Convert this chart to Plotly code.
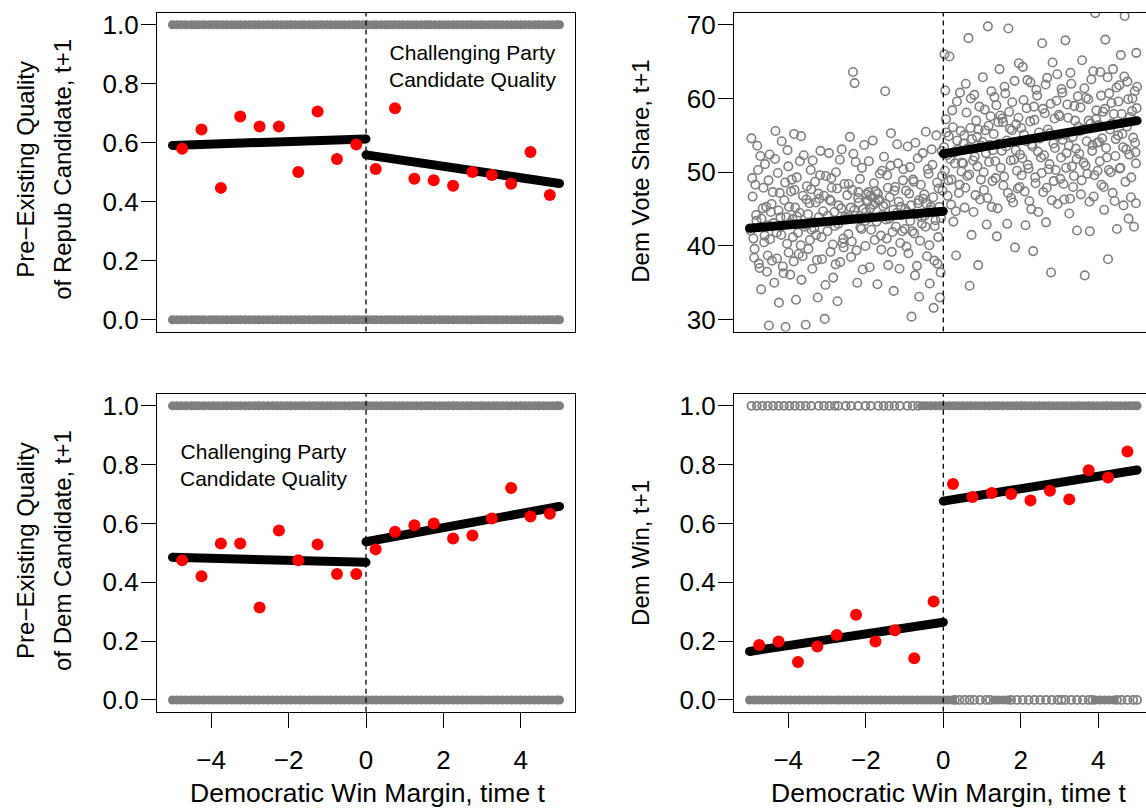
import plotly.graph_objects as go

# ---------------- data ----------------
bin_x = [-4.75, -4.25, -3.75, -3.25, -2.75, -2.25, -1.75, -1.25, -0.75, -0.25,
         0.25, 0.75, 1.25, 1.75, 2.25, 2.75, 3.25, 3.75, 4.25, 4.75]

# panel A: pre-existing quality of Repub candidate
rep_bin_means = [0.580, 0.645, 0.447, 0.689, 0.655, 0.655, 0.501, 0.706, 0.545, 0.594,
                 0.511, 0.717, 0.478, 0.473, 0.454, 0.501, 0.491, 0.461, 0.569, 0.423]
rep_fit_left = [0.591, 0.613]
rep_fit_right = [0.559, 0.462]

# panel C: pre-existing quality of Dem candidate
dem_bin_means = [0.475, 0.421, 0.532, 0.532, 0.314, 0.576, 0.475, 0.529, 0.428, 0.428,
                 0.512, 0.572, 0.594, 0.600, 0.549, 0.559, 0.617, 0.721, 0.624, 0.633]
dem_fit_left = [0.485, 0.468]
dem_fit_right = [0.538, 0.658]

# panel D: Dem win, t+1
win_bin_means = [0.187, 0.199, 0.129, 0.182, 0.221, 0.290, 0.199, 0.237, 0.142, 0.335,
                 0.734, 0.690, 0.704, 0.700, 0.678, 0.711, 0.682, 0.781, 0.756, 0.845]
win_fit_left = [0.165, 0.264]
win_fit_right = [0.676, 0.782]

fit_x_left = [-5.0, 0.0]
fit_x_right = [0.0, 5.0]

# panel B: Dem vote share, t+1 (fit)
vs_fit_left = [42.4, 44.7]
vs_fit_right = [52.5, 57.0]

vs_x = [
    -4.95, -4.93, -4.9, -4.88, -4.85, -4.82, -4.8, -4.76, -4.72, -4.7, -4.66, -4.62, -4.6, -4.55, -4.52, -4.5,
    -4.48, -4.45, -4.42, -4.4, -4.36, -4.33, -4.3, -4.27, -4.24, -4.2, -4.17, -4.14, -4.1, -4.07, -4.03, -4.0,
    -3.98, -3.96, -3.95, -3.91, -3.88, -3.85, -3.84, -3.8, -3.77, -3.73, -3.7, -3.68, -3.66, -3.62, -3.6, -3.58, -3.55, -3.52,
    -3.48, -3.45, -3.42, -3.4, -3.38, -3.35, -3.31, -3.28, -3.24, -3.22, -3.2, -3.17, -3.13, -3.1, -3.06, -3.03,
    -2.98, -2.95, -2.91, -2.9, -2.88, -2.84, -2.8, -2.77, -2.73, -2.7, -2.66, -2.62, -2.6, -2.58, -2.55, -2.52,
    -2.48, -2.45, -2.41, -2.38, -2.35, -2.33, -2.3, -2.29, -2.26, -2.22, -2.2, -2.18, -2.15, -2.11, -2.08, -2.04, -2.02,
    -1.98, -1.95, -1.92, -1.9, -1.88, -1.85, -1.82, -1.8, -1.77, -1.74, -1.7, -1.67, -1.64, -1.6, -1.57, -1.53,
    -1.5, -1.48, -1.45, -1.42, -1.38, -1.35, -1.31, -1.28, -1.24, -1.2, -1.17, -1.13, -1.1, -1.06, -1.03,
    -0.98, -0.95, -0.92, -0.88, -0.85, -0.82, -0.78, -0.75, -0.72, -0.68, -0.65, -0.62, -0.58, -0.55, -0.52,
    -0.48, -0.45, -0.42, -0.38, -0.35, -0.32, -0.28, -0.25, -0.22, -0.18, -0.15, -0.12, -0.09, -0.06, -0.03,
    0.03, 0.05, 0.08, 0.1, 0.13, 0.16, 0.2, 0.23, 0.26, 0.3, 0.33, 0.36, 0.4, 0.43, 0.47,
    0.52, 0.55, 0.58, 0.62, 0.65, 0.68, 0.7, 0.73, 0.77, 0.8, 0.83, 0.87, 0.9, 0.93, 0.97,
    1.02, 1.05, 1.08, 1.12, 1.15, 1.18, 1.22, 1.25, 1.28, 1.32, 1.35, 1.38, 1.42, 1.45, 1.48,
    1.52, 1.55, 1.58, 1.62, 1.65, 1.68, 1.72, 1.75, 1.78, 1.82, 1.85, 1.88, 1.92, 1.95, 1.98,
    2.02, 2.05, 2.08, 2.12, 2.15, 2.18, 2.22, 2.25, 2.28, 2.32, 2.35, 2.38, 2.42, 2.45, 2.48,
    2.52, 2.55, 2.58, 2.62, 2.65, 2.68, 2.72, 2.75, 2.78, 2.82, 2.85, 2.88, 2.92, 2.95, 2.98,
    3.02, 3.05, 3.08, 3.12, 3.15, 3.18, 3.22, 3.25, 3.28, 3.32, 3.35, 3.38, 3.42, 3.45, 3.48,
    3.52, 3.55, 3.58, 3.62, 3.65, 3.68, 3.72, 3.75, 3.78, 3.82, 3.85, 3.88, 3.92, 3.95, 3.98,
    4.02, 4.05, 4.08, 4.12, 4.15, 4.18, 4.22, 4.25, 4.28, 4.32, 4.35, 4.38, 4.42, 4.45, 4.48,
    4.52, 4.55, 4.58, 4.62, 4.65, 4.68, 4.72, 4.75, 4.78, 4.82, 4.85, 4.88, 4.92, 4.95, 4.98,
    4.99, 4.97, 5.0, 4.96,
    # second pass, denser core
    -4.97, -4.92, -4.87, -4.83, -4.78, -4.74, -4.69, -4.64, -4.61, -4.57, -4.53, -4.51,
    -4.47, -4.43, -4.38, -4.34, -4.29, -4.25, -4.22, -4.18, -4.12, -4.08, -4.05, -4.02,
    -3.99, -3.93, -3.89, -3.86, -3.82, -3.78, -3.75, -3.71, -3.67, -3.63, -3.57, -3.53,
    -3.49, -3.44, -3.41, -3.37, -3.33, -3.29, -3.26, -3.21, -3.18, -3.14, -3.08, -3.04,
    -2.99, -2.93, -2.89, -2.85, -2.81, -2.78, -2.74, -2.71, -2.67, -2.63, -2.57, -2.53,
    -2.49, -2.44, -2.39, -2.36, -2.32, -2.27, -2.24, -2.19, -2.14, -2.1, -2.06, -2.01,
    -1.99, -1.96, -1.93, -1.89, -1.86, -1.83, -1.79, -1.76, -1.72, -1.69, -1.65, -1.61, -1.58, -1.55,
    -1.49, -1.46, -1.43, -1.39, -1.36, -1.33, -1.29, -1.26, -1.22, -1.19, -1.15, -1.11, -1.08, -1.04,
    -0.99, -0.96, -0.93, -0.9, -0.86, -0.83, -0.8, -0.76, -0.73, -0.7, -0.66, -0.63, -0.6, -0.56, -0.53,
    -0.49, -0.46, -0.43, -0.4, -0.36, -0.33, -0.3, -0.26, -0.23, -0.2, -0.16, -0.13, -0.1, -0.07, -0.04, -0.02,
    0.02, 0.04, 0.07, 0.11, 0.14, 0.18, 0.21, 0.25, 0.28, 0.32, 0.35, 0.38, 0.42, 0.45, 0.48,
    0.51, 0.54, 0.57, 0.6, 0.63, 0.67, 0.71, 0.74, 0.78, 0.81, 0.85, 0.88, 0.91, 0.95, 0.98,
    1.01, 1.04, 1.07, 1.1, 1.14, 1.17, 1.2, 1.24, 1.27, 1.3, 1.34, 1.37, 1.4, 1.44, 1.47,
    1.51, 1.54, 1.57, 1.6, 1.64, 1.67, 1.7, 1.74, 1.77, 1.8, 1.84, 1.87, 1.9, 1.94, 1.97,
    2.01, 2.04, 2.07, 2.1, 2.14, 2.17, 2.2, 2.24, 2.27, 2.3, 2.34, 2.37, 2.4, 2.44, 2.47,
    2.51, 2.54, 2.57, 2.6, 2.64, 2.67, 2.7, 2.74, 2.77, 2.8, 2.84, 2.87, 2.9, 2.94, 2.97,
    3.01, 3.04, 3.07, 3.1, 3.14, 3.17, 3.2, 3.24, 3.27, 3.3, 3.34, 3.37, 3.4, 3.44, 3.47,
    3.51, 3.54, 3.57, 3.6, 3.64, 3.67, 3.7, 3.74, 3.77, 3.8, 3.84, 3.87, 3.9, 3.94, 3.97,
    4.01, 4.04, 4.07, 4.1, 4.14, 4.17, 4.2, 4.24, 4.27, 4.3, 4.34, 4.37, 4.4, 4.44, 4.47,
    4.51, 4.54, 4.57, 4.6, 4.64, 4.67, 4.7, 4.74, 4.77, 4.8, 4.84, 4.87, 4.9, 4.94, 4.97,
]
vs_y = [
    54.6, 49.2, 41.0, 38.4, 48.3, 43.4, 53.6, 37.6, 52.2, 34.1, 45.1, 40.5, 51.1, 36.5, 42.8, 29.2,
    52.4, 44.6, 38.0, 47.3, 35.0, 55.6, 41.8, 49.9, 32.3, 43.9, 54.2, 37.2, 46.2, 29.0, 40.3, 50.8,
    45.3, 43.1, 36.1, 49.0, 41.2, 55.2, 47.6, 32.7, 44.0, 38.9, 51.5, 40.1, 35.4, 46.8, 52.3, 42.6, 29.3, 48.1,
    39.6, 45.8, 50.3, 42.2, 36.9, 43.2, 48.7, 41.5, 33.0, 47.1, 46.4, 52.9, 38.2, 44.7, 30.1, 49.5,
    44.1, 52.6, 39.2, 46.1, 47.9, 35.7, 42.7, 50.0, 32.5, 45.5, 37.8, 53.1, 40.4, 41.0, 48.4, 43.6,
    46.9, 41.6, 54.8, 38.5, 47.6, 63.6, 44.8, 62.1, 51.4, 35.0, 46.5, 45.9, 49.1, 42.3, 36.8, 53.7, 43.4,
    47.0, 46.2, 51.5, 37.1, 46.8, 43.9, 54.3, 45.6, 40.8, 47.4, 34.8, 46.1, 49.8, 39.5, 44.2, 52.1,
    61.0, 43.6, 49.6, 37.4, 46.6, 55.3, 41.9, 33.9, 48.0, 44.5, 51.2, 36.9, 45.3, 42.0, 50.4,
    45.0, 39.9, 53.5, 47.1, 43.4, 30.4, 49.0, 41.7, 54.0, 37.3, 45.8, 33.1, 48.3, 43.0, 46.4,
    44.1, 55.5, 38.6, 49.8, 34.9, 45.3, 51.0, 31.6, 42.7, 55.0, 37.6, 47.8, 33.0, 43.8, 49.5,
    66.0, 61.1, 55.4, 52.3, 48.9, 65.7, 45.6, 58.4, 43.3, 51.2, 38.7, 54.3, 47.2, 60.8, 50.1,
    53.9, 45.2, 62.0, 49.5, 68.2, 34.6, 56.0, 41.5, 51.6, 60.5, 46.9, 54.8, 37.4, 58.9, 49.0,
    62.9, 47.6, 55.7, 42.9, 69.8, 51.4, 57.6, 45.3, 53.0, 60.2, 49.2, 41.3, 56.8, 64.0, 50.6,
    57.3, 48.2, 61.6, 53.5, 43.0, 69.5, 55.9, 46.5, 59.5, 51.7, 39.8, 56.5, 47.8, 64.8, 52.4,
    49.6, 64.3, 55.1, 42.8, 58.7, 51.0, 46.1, 62.2, 53.8, 39.3, 57.1, 48.5, 60.4, 44.6, 54.6,
    52.0, 67.5, 47.3, 58.0, 43.2, 62.8, 50.4, 55.3, 36.4, 64.9, 48.8, 53.3, 59.7, 45.7, 57.8,
    49.1, 61.3, 54.4, 46.3, 67.9, 52.6, 57.4, 44.4, 63.5, 50.8, 48.0, 59.0, 53.2, 42.1, 56.2,
    55.6, 47.0, 65.2, 51.3, 36.0, 60.1, 49.8, 57.0, 42.0, 62.6, 53.7, 46.7, 71.6, 58.4, 50.2,
    54.1, 63.6, 48.3, 58.2, 44.9, 68.0, 52.0, 38.2, 60.7, 50.0, 56.6, 64.0, 46.1, 54.5, 42.3,
    59.6, 50.5, 65.9, 55.2, 45.5, 71.2, 53.1, 62.3, 43.7, 57.5, 49.3, 60.0, 42.6, 54.0, 66.2,
    58.7, 45.8, 61.6, 52.7,
    # second pass, denser core
    42.1, 46.7, 39.6, 44.2, 50.3, 37.0, 43.7, 47.9, 41.4, 45.3, 38.7, 48.9,
    40.9, 45.7, 43.1, 51.8, 38.3, 44.8, 47.2, 41.5, 36.3, 48.6, 43.9, 53.0,
    39.1, 47.4, 43.6, 37.9, 45.2, 49.3, 41.8, 44.5, 54.9, 38.6, 42.9, 46.3,
    44.3, 40.8, 47.7, 51.6, 42.4, 45.9, 38.1, 43.9, 49.6, 41.2, 46.8, 34.7,
    42.0, 46.3, 49.2, 40.2, 44.6, 37.5, 47.8, 43.0, 51.7, 45.1, 39.8, 44.0,
    43.8, 48.4, 45.2, 40.6, 52.5, 44.1, 39.4, 47.3, 42.5, 50.6, 45.0, 40.0,
    44.6, 46.0, 47.3, 45.1, 42.2, 46.6, 48.5, 45.9, 43.3, 47.1, 46.3, 41.4, 50.2, 45.4,
    45.7, 41.0, 47.9, 43.7, 50.9, 39.2, 44.9, 47.5, 42.6, 53.8, 46.0, 40.4, 44.2, 48.9,
    42.3, 47.5, 44.6, 39.0, 50.7, 45.5, 42.0, 48.7, 36.0, 44.3, 51.9, 46.2, 40.7, 43.9, 52.6,
    47.0, 42.6, 45.7, 50.4, 40.1, 44.9, 53.1, 46.6, 38.0, 43.5, 48.6, 41.2, 45.3, 36.4, 52.9, 47.5,
    53.4, 50.2, 57.2, 46.8, 54.9, 51.8, 49.0, 56.1, 52.7, 44.7, 59.6, 53.1, 48.3, 55.6, 51.3,
    51.2, 55.0, 47.9, 58.1, 53.2, 49.7, 60.0, 54.5, 44.6, 52.1, 57.0, 50.8, 55.8, 46.3, 53.6,
    54.1, 50.0, 58.5, 52.6, 46.5, 56.3, 53.7, 61.0, 48.8, 55.2, 51.5, 59.1, 45.1, 53.9, 57.7,
    52.9, 56.8, 49.4, 60.7, 54.3, 47.2, 58.2, 51.6, 55.7, 45.9, 62.4, 53.0, 50.2, 57.4, 48.0,
    56.0, 51.9, 59.8, 47.4, 54.2, 62.5, 50.5, 56.9, 45.0, 53.5, 58.9, 49.3, 61.2, 52.8, 55.4,
    54.7, 49.9, 58.6, 52.3, 61.9, 47.9, 55.8, 51.1, 59.3, 46.2, 53.9, 57.3, 50.3, 63.3, 55.0,
    57.6, 52.0, 60.8, 48.4, 55.1, 50.6, 59.2, 53.6, 46.4, 62.0, 54.8, 49.5, 57.0, 51.8, 60.3,
    52.5, 58.8, 48.9, 55.9, 61.4, 50.9, 54.2, 59.9, 46.0, 56.6, 52.9, 63.7, 49.6, 57.2, 54.0,
    56.4, 51.5, 60.4, 54.6, 48.0, 58.6, 53.3, 62.9, 50.3, 55.8, 59.4, 47.2, 57.9, 52.2, 61.5,
    55.0, 61.8, 50.6, 57.9, 53.4, 63.0, 48.7, 56.2, 59.9, 52.4, 46.6, 58.3, 54.7, 61.0, 51.2,
]

dense_row_a = [-5.0, -4.88, -4.77, -4.65, -4.52, -4.41, -4.3, -4.18, -4.05, -3.94, -3.82, -3.7, -3.59,
               -3.47, -3.35, -3.24, -3.12, -3.0, -2.88, -2.77, -2.65, -2.53, -2.41, -2.3, -2.18, -2.06,
               -1.95, -1.83, -1.71, -1.6, -1.48, -1.36, -1.25, -1.13, -1.01, -0.9, -0.78, -0.66, -0.55,
               -0.43, -0.31, -0.2, -0.08, 0.03, 0.15, 0.26, 0.38, 0.5, 0.61, 0.73, 0.85, 0.96, 1.08, 1.2,
               1.31, 1.43, 1.55, 1.66, 1.78, 1.9, 2.01, 2.13, 2.25, 2.36, 2.48, 2.6, 2.71, 2.83, 2.95,
               3.06, 3.18, 3.3, 3.41, 3.53, 3.65, 3.76, 3.88, 4.0, 4.11, 4.23, 4.35, 4.46, 4.58, 4.7,
               4.81, 4.93, 5.0]
win1_sparse = [-4.95, -4.81, -4.67, -4.53, -4.39, -4.25, -4.11, -3.97, -3.83, -3.69, -3.55, -3.41,
               -3.22, -3.08, -2.94, -2.8, -2.71, -2.52, -2.38, -2.2, -2.01, -1.87, -1.68, -1.54, -1.4,
               -1.26, -1.12, -0.93, -0.79, -0.65]
win1_dense = [-0.56, -0.45, -0.33, -0.21, -0.1, 0.02, 0.14, 0.26, 0.37, 0.49, 0.61, 0.72, 0.84, 0.96,
              1.07, 1.19, 1.31, 1.42, 1.54, 1.66, 1.77, 1.89, 2.01, 2.12, 2.24, 2.36, 2.47, 2.59, 2.71,
              2.82, 2.94, 3.06, 3.17, 3.29, 3.41, 3.52, 3.64, 3.76, 3.87, 3.99, 4.11, 4.22, 4.34, 4.46,
              4.57, 4.69, 4.81, 4.92, 5.0]
win0_dense = [-5.0, -4.88, -4.77, -4.65, -4.53, -4.42, -4.3, -4.18, -4.07, -3.95, -3.83, -3.72, -3.6,
              -3.48, -3.37, -3.25, -3.13, -3.02, -2.9, -2.78, -2.67, -2.55, -2.43, -2.32, -2.2, -2.08,
              -1.97, -1.85, -1.73, -1.62, -1.5, -1.38, -1.27, -1.15, -1.03, -0.92, -0.8, -0.68, -0.57,
              -0.45, -0.33, -0.22, -0.1, 0.02, 0.13, 0.24, 1.32, 1.43, 1.55, 1.66, 3.92, 4.04, 4.16, 4.28,
              4.4]
win0_sparse = [0.3, 0.42, 0.55, 0.68, 0.8, 0.95, 1.1, 1.2, 1.75, 1.9, 2.05, 2.2, 2.35, 2.5, 2.65, 2.8,
               2.95, 3.05, 3.15, 3.3, 3.45, 3.6, 3.75, 3.85, 4.48, 4.6, 4.75, 4.9, 5.0]

x_ticks = [-4, -2, 0, 2, 4]
prob_ticks = [0.0, 0.2, 0.4, 0.6, 0.8, 1.0]
vs_ticks = [30, 40, 50, 60, 70]

x_title = "Democratic Win Margin, time t"
note_lines = "Challenging Party<br>Candidate Quality"

# ---------------- styles ----------------
FONT = "Liberation Sans, Arial, Helvetica, sans-serif"
GRAY = "#7F7F7F"
RED = "#FF0000"
W, H = 1146, 811

fig = go.Figure()


def add_rows(xa, ya, xs_dense, yv, xs_sparse=None):
    fig.add_trace(go.Scatter(x=xs_dense, y=[yv] * len(xs_dense), mode="markers", xaxis=xa, yaxis=ya,
                             marker=dict(symbol="circle", size=9, color=GRAY,
                                         line=dict(width=0)), showlegend=False, hoverinfo="skip"))
    if xs_sparse:
        fig.add_trace(go.Scatter(x=xs_sparse, y=[yv] * len(xs_sparse), mode="markers", xaxis=xa, yaxis=ya,
                                 marker=dict(symbol="circle-open", size=8, color=GRAY,
                                             line=dict(width=1.8, color=GRAY)),
                                 showlegend=False, hoverinfo="skip"))


def add_fit(xa, ya, left, right):
    for xs, ys in ((fit_x_left, left), (fit_x_right, right)):
        fig.add_trace(go.Scatter(x=xs, y=ys, mode="lines+markers", xaxis=xa, yaxis=ya,
                                 line=dict(color="black", width=9),
                                 marker=dict(color="black", size=9),
                                 showlegend=False, hoverinfo="skip"))


def add_bins(xa, ya, vals):
    fig.add_trace(go.Scatter(x=bin_x, y=vals, mode="markers", xaxis=xa, yaxis=ya,
                             marker=dict(color=RED, size=12, line=dict(width=0)),
                             showlegend=False, hoverinfo="skip"))


# panel A (top-left)
add_rows("x", "y", dense_row_a, 1.0)
add_rows("x", "y", dense_row_a, 0.0)
add_fit("x", "y", rep_fit_left, rep_fit_right)
add_bins("x", "y", rep_bin_means)

# panel B (top-right)
fig.add_trace(go.Scatter(x=vs_x, y=vs_y, mode="markers", xaxis="x2", yaxis="y2",
                         marker=dict(symbol="circle-open", size=8.5, color=GRAY,
                                     line=dict(width=1.6, color=GRAY)),
                         showlegend=False, hoverinfo="skip"))
add_fit("x2", "y2", vs_fit_left, vs_fit_right)

# panel C (bottom-left)
add_rows("x3", "y3", dense_row_a, 1.0)
add_rows("x3", "y3", dense_row_a, 0.0)
add_fit("x3", "y3", dem_fit_left, dem_fit_right)
add_bins("x3", "y3", dem_bin_means)

# panel D (bottom-right)
add_rows("x4", "y4", win1_dense, 1.0, win1_sparse)
add_rows("x4", "y4", win0_dense, 0.0, win0_sparse)
add_fit("x4", "y4", win_fit_left, win_fit_right)
add_bins("x4", "y4", win_bin_means)

# ---------------- layout ----------------
L_DOM = [157 / W, 575 / W]
R_DOM = [734 / W, 1.0]
T_DOM = [1 - 331 / H, 1 - 10 / H]
B_DOM = [1 - 714 / H, 1 - 394 / H]
X_RANGE_L = [-5.4, 5.4]
X_RANGE_R = [-5.4, 5.4 * (1146 - 943.3) / (943.3 - 734)]

tickfont = dict(family=FONT, size=26, color="black")
axis_common = dict(showgrid=False, zeroline=False, showline=True, linecolor="black", linewidth=1.3,
                   tickfont=tickfont, ticks="outside", ticklen=15, tickwidth=1.3, tickcolor="black")


def xax(domain, anchor, rng, show):
    d = dict(axis_common, domain=domain, anchor=anchor, range=rng, mirror=True)
    if show:
        d.update(tickvals=x_ticks, ticklabelstandoff=10)
    else:
        d.update(ticks="", showticklabels=False)
    return d


def yax(domain, anchor, rng, ticks, fmt, mirror=True):
    return dict(axis_common, domain=domain, anchor=anchor, range=rng, mirror=mirror,
                tickvals=ticks, tickformat=fmt, ticklabelstandoff=-3)


fig.update_layout(
    width=W, height=H, margin=dict(l=0, r=0, t=0, b=0),
    paper_bgcolor="white", plot_bgcolor="white",
    font=dict(family=FONT, color="black"),
    xaxis=xax(L_DOM, "y", X_RANGE_L, False),
    yaxis=yax(T_DOM, "x", [-0.04, 1.04], prob_ticks, ".1f"),
    xaxis2=xax(R_DOM, "y2", X_RANGE_R, False),
    yaxis2=yax(T_DOM, "x2", [28.38, 71.62], vs_ticks, "d", mirror=False),
    xaxis3=xax(L_DOM, "y3", X_RANGE_L, True),
    yaxis3=yax(B_DOM, "x3", [-0.04, 1.04], prob_ticks, ".1f"),
    xaxis4=xax(R_DOM, "y4", X_RANGE_R, True),
    yaxis4=yax(B_DOM, "x4", [-0.04, 1.04], prob_ticks, ".1f", mirror=False),
)

# dashed vertical line at zero in every panel
for xr, yr in (("x", "y"), ("x2", "y2"), ("x3", "y3"), ("x4", "y4")):
    fig.add_shape(type="line", xref=xr, yref=f"{yr} domain", x0=0, x1=0, y0=0, y1=1,
                  line=dict(color="black", width=1.3, dash="5px,4px"))

title_font = dict(family=FONT, size=26.5, color="black")
ytitle_font = dict(family=FONT, size=24, color="black")
note_font = dict(family=FONT, size=21, color="black")
annotations = [
    # x-axis titles
    dict(text=x_title, x=368 / W, y=1 - 796 / H, xref="paper", yref="paper",
         xanchor="center", yanchor="middle", showarrow=False, font=title_font),
    dict(text=x_title, x=949 / W, y=1 - 796 / H, xref="paper", yref="paper",
         xanchor="center", yanchor="middle", showarrow=False, font=title_font),
    # y-axis titles
    dict(text="Pre−Existing Quality", x=26 / W, y=1 - 168 / H, xref="paper", yref="paper",
         xanchor="center", yanchor="middle", textangle=-90, showarrow=False, font=ytitle_font),
    dict(text="of Repub Candidate, t+1", x=63 / W, y=1 - 168 / H, xref="paper", yref="paper",
         xanchor="center", yanchor="middle", textangle=-90, showarrow=False, font=ytitle_font),
    dict(text="Pre−Existing Quality", x=26 / W, y=1 - 552 / H, xref="paper", yref="paper",
         xanchor="center", yanchor="middle", textangle=-90, showarrow=False, font=ytitle_font),
    dict(text="of Dem Candidate, t+1", x=63 / W, y=1 - 552 / H, xref="paper", yref="paper",
         xanchor="center", yanchor="middle", textangle=-90, showarrow=False, font=ytitle_font),
    dict(text="Dem Vote Share, t+1", x=641 / W, y=1 - 170 / H, xref="paper", yref="paper",
         xanchor="center", yanchor="middle", textangle=-90, showarrow=False, font=ytitle_font),
    dict(text="Dem Win, t+1", x=641 / W, y=1 - 554 / H, xref="paper", yref="paper",
         xanchor="center", yanchor="middle", textangle=-90, showarrow=False, font=ytitle_font),
    # in-panel notes
    dict(text=note_lines, x=472 / W, y=1 - 63 / H, xref="paper", yref="paper",
         xanchor="center", yanchor="middle", showarrow=False, font=note_font, align="center"),
    dict(text=note_lines, x=263 / W, y=1 - 465 / H, xref="paper", yref="paper",
         xanchor="center", yanchor="middle", showarrow=False, font=note_font, align="center"),
]
fig.update_layout(annotations=annotations)

fig.write_html("out.html")
